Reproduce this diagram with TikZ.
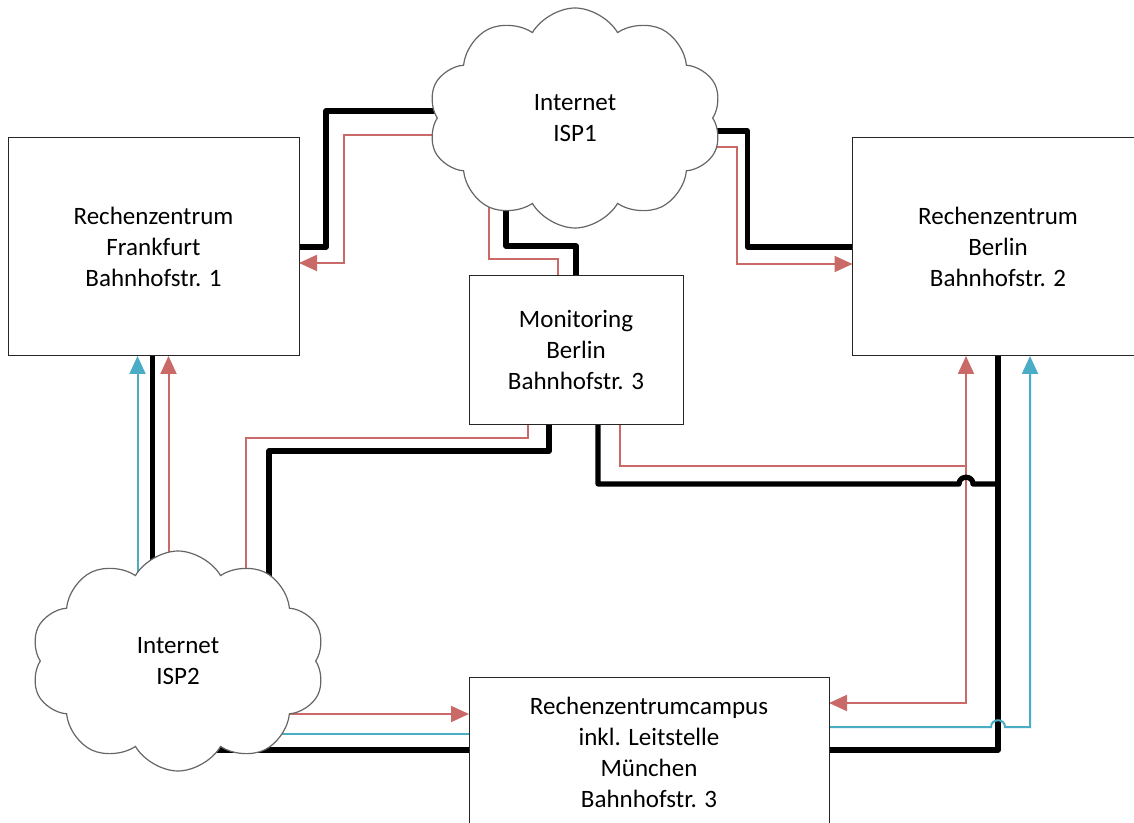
\documentclass[tikz,border=0pt]{standalone}
\usepackage{fontspec}
\setmainfont{Carlito}
\usetikzlibrary{shapes.symbols,arrows.meta,calc}
\definecolor{linkred}{HTML}{C0504D}
\definecolor{linkblue}{HTML}{4BACC6}
\pgfdeclarelayer{background}
\pgfsetlayers{background,main}

\begin{document}
\begin{tikzpicture}[
  x=0.5pt, y=-0.5pt,
  >={Triangle[length=9pt, width=8pt]},
  every node/.style = {align=center, font=\fontsize{12.5}{15.5}\selectfont},
  box/.style = {shape=rectangle, draw=black!85, line width=0.5pt, fill=white,
    outer sep=0pt},
  isp/.style = {shape=cloud, cloud puffs=10, cloud puff arc=120, aspect=1.35,
    draw=black!60, line width=0.6pt, fill=white, outer sep=0pt,
    minimum width=147pt, minimum height=110pt},
  blackpath/.style = {draw=black, line width=2.6pt, line cap=round, line join=round},
  redpath/.style = {draw=linkred!85, fill=none, line width=1pt},
  bluepath/.style = {draw=linkblue, fill=none, line width=1pt}
  ]
  \useasboundingbox (0,0) rectangle (1134,823);
  \clip (0,0) rectangle (1134,823);

  % sites
  \node[box, minimum width=145.5pt, minimum height=109pt] (ffm) at (153.5,247)
    {Rechenzentrum\\Frankfurt\\Bahnhofstr. 1};
  \node[box, minimum width=145.5pt, minimum height=109pt] (ber) at (998,247)
    {Rechenzentrum\\Berlin\\Bahnhofstr. 2};
  \node[box, minimum width=107pt, minimum height=74pt] (mon) at (576,350)
    {Monitoring\\Berlin\\Bahnhofstr. 3};
  \node[box, minimum width=180pt, minimum height=75pt] (campus) at (649,752)
    {Rechenzentrumcampus\\inkl. Leitstelle\\München\\Bahnhofstr. 3};

  % providers
  \node[isp] (isp1) at (575,118) {Internet\\ISP1};
  \node[isp] (isp2) at (178,661) {Internet\\ISP2};

  \begin{pgfonlayer}{background}
    % ISP1
    \draw[blackpath] (ffm.east) -- ++(27,0) |- ($(isp1.center)+(0,-7)$);
    \draw[redpath, ->] ($(isp1.center)+(0,17)$) -| ($(ffm.east)+(45,16)$)
      -- ($(ffm.east)+(0,16)$);
    \draw[blackpath] ($(isp1.center)+(-69,0)$) |- ($(mon.north)+(0,-30)$) -- (mon.north);
    \draw[redpath] ($(isp1.center)+(-86,0)$) |- ($(mon.north)+(-18,-17)$)
      -- ($(mon.north)+(-18,0)$);
    \draw[blackpath] ($(isp1.center)+(0,13)$) -| ($(ber.west)+(-105,0)$) -- (ber.west);
    \draw[redpath, ->] ($(isp1.center)+(0,29)$) -| ($(ber.west)+(-116,17)$)
      -- ($(ber.west)+(0,17)$);

    % ISP2
    \draw[blackpath] ($(ffm.south)+(-1,0)$) |- (isp2.center);
    \draw[redpath, <-] ($(ffm.south)+(15,0)$) |- (isp2.center);
    \draw[bluepath, <-] ($(ffm.south)+(-16,0)$) |- (isp2.center);
    \draw[redpath] ($(mon.south)+(-48,0)$) -- ++(0,14) -| ($(isp2.center)+(68,0)$);
    \draw[blackpath] ($(mon.south)+(-27,0)$) -- ++(0,27) -| ($(isp2.center)+(91,0)$);
    \draw[redpath, ->] ($(isp2.center)+(0,53)$) -- ($(campus.west)+(0,-38)$);
    \draw[bluepath] ($(isp2.center)+(0,73)$) -- ($(campus.west)+(0,-18)$);
    \draw[blackpath] ($(isp2.center)+(0,89)$) -- ($(campus.west)+(0,-2)$);

    % Berlin, Monitoring, campus
    \draw[redpath, <->] ($(ber.south)+(-32,0)$) |- ($(campus.east)+(0,-49)$);
    \draw[redpath] ($(mon.south)+(44,0)$) |- ($(ber.south)+(-32,110)$);
    \draw[blackpath] (ber.south) |- ($(campus.east)+(0,-2)$);
    \draw[blackpath] ($(mon.south)+(22,0)$) |- ($(ber.south)+(-39,128)$)
      .. controls +(0,-9) and +(0,-9) .. ++(14,0) -- ($(ber.south)+(0,128)$);
    \draw[bluepath, ->] ($(campus.east)+(0,-25)$) -- ($(ber.south)+(-7,371)$)
      .. controls +(0,-9) and +(0,-9) .. ++(14,0) -| ($(ber.south)+(32,0)$);
  \end{pgfonlayer}
\end{tikzpicture}
\end{document}
